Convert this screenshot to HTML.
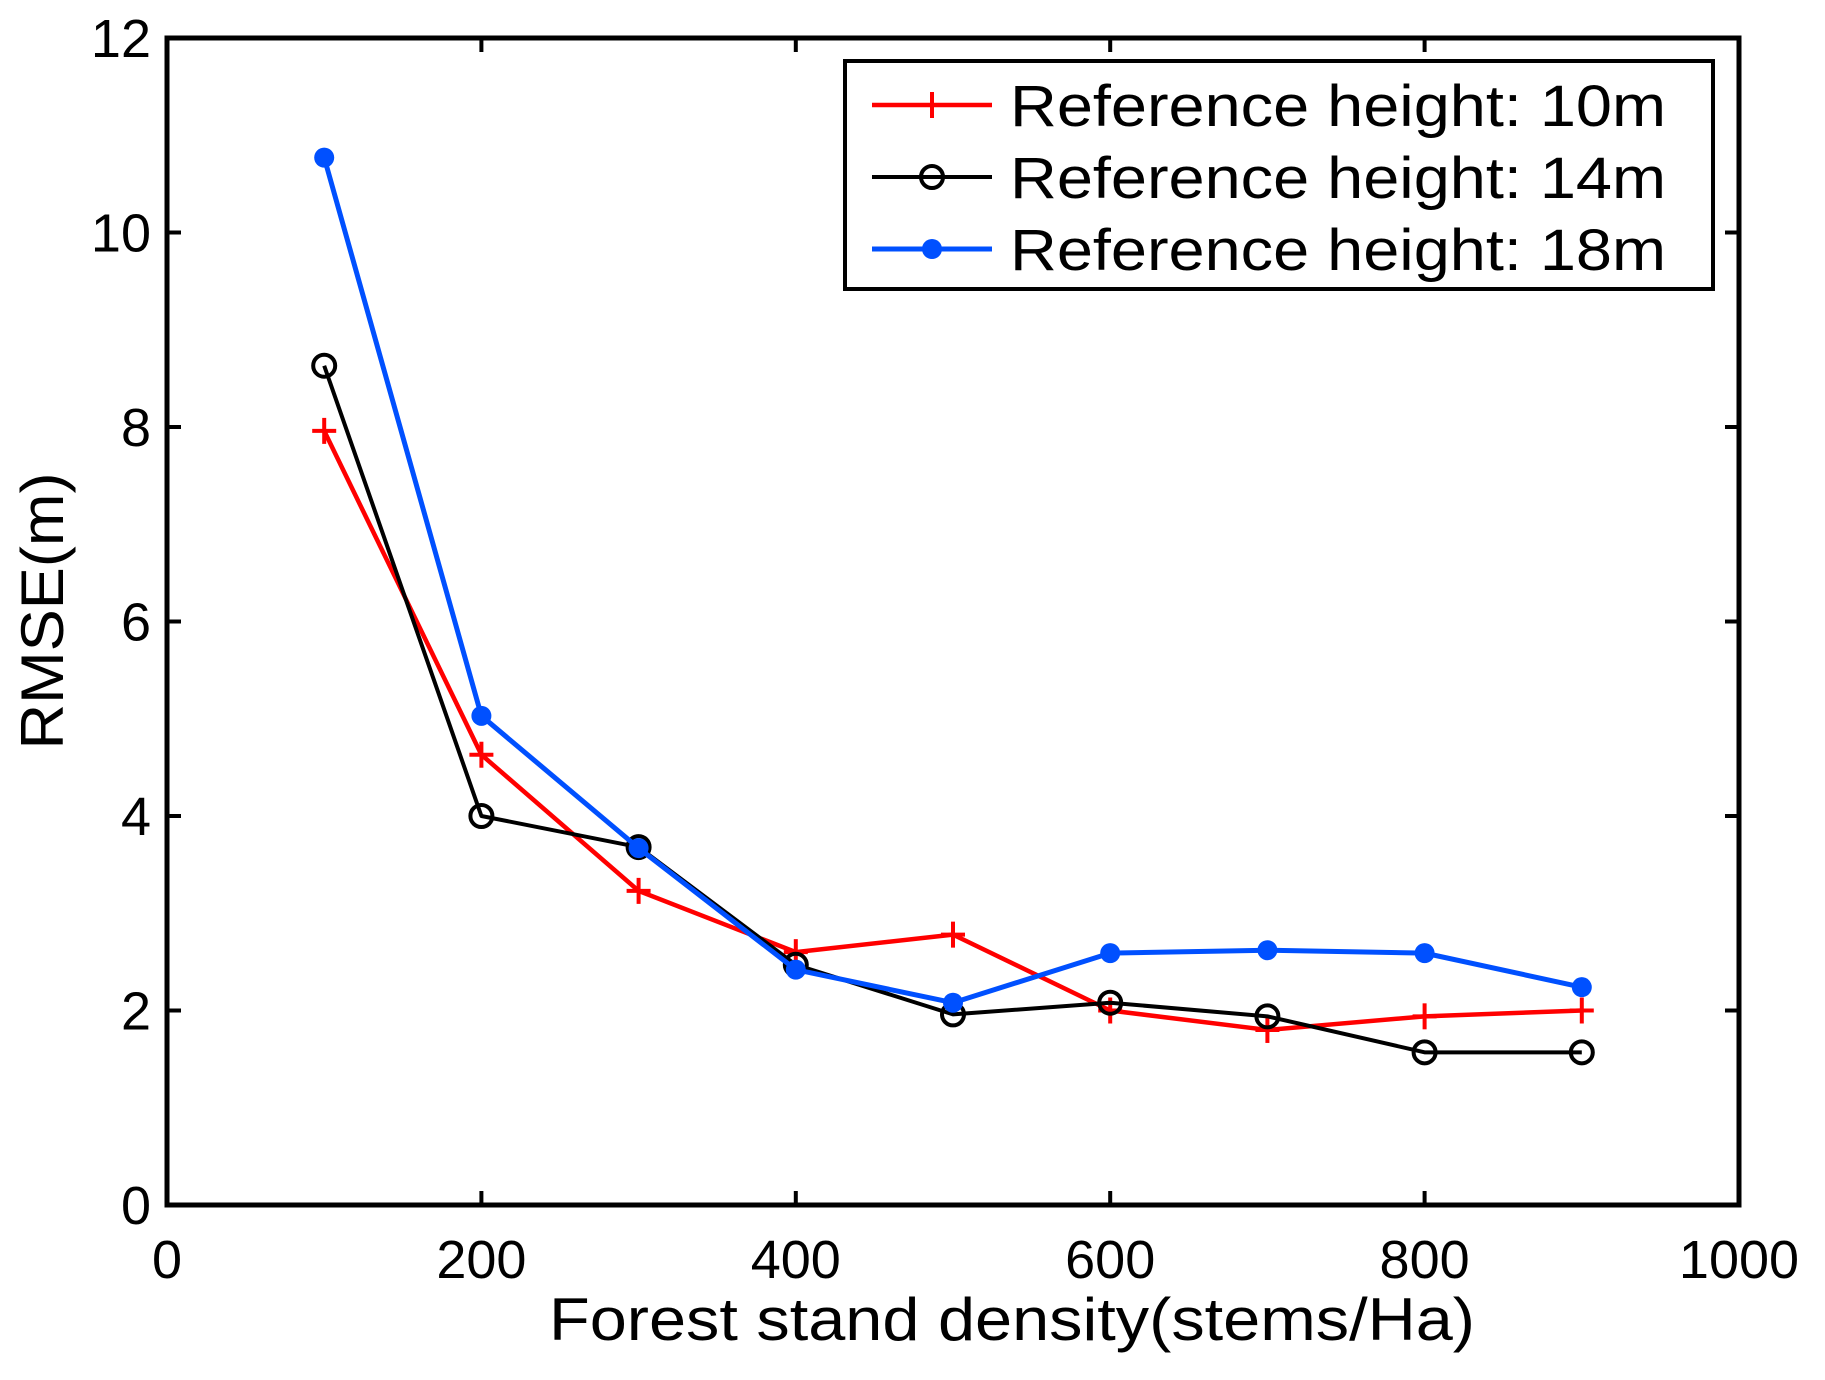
<!DOCTYPE html>
<html><head><meta charset="utf-8"><style>
html,body{margin:0;padding:0;background:#fff;}
svg{display:block;font-family:"Liberation Sans",Arial,sans-serif;}
</style></head><body>
<svg id="chart" width="1825" height="1380" viewBox="0 0 1825 1380" xmlns="http://www.w3.org/2000/svg">
<rect width="1825" height="1380" fill="#fff"/>
<g id="plot"></g>
</svg>
<script>
const xCategories=[100,200,300,400,500,600,700,800,900];
const seriesRef10=[7.96,4.63,3.23,2.6,2.78,2.0,1.8,1.94,2.0];
const seriesRef14=[8.63,4.0,3.68,2.47,1.96,2.08,1.94,1.57,1.57];
const seriesRef18=[10.77,5.03,3.67,2.42,2.08,2.59,2.62,2.59,2.24];
const xTicks=[0,200,400,600,800,1000];
const yTicks=[0,2,4,6,8,10,12];
const legendLabels=["Reference height: 10m","Reference height: 14m","Reference height: 18m"];

const L=167,R=1739,T=38,B=1205;
const sx=v=>L+(v-0)/1000*(R-L);
const sy=v=>B-(v-0)/12*(B-T);
const NS="http://www.w3.org/2000/svg";
const g=document.getElementById('plot');
function mk(tag,attrs,parent){const e=document.createElementNS(NS,tag);for(const k in attrs)e.setAttribute(k,attrs[k]);(parent||g).appendChild(e);return e;}

xTicks.forEach(t=>{
  const tb=mk('line',{x1:sx(t),x2:sx(t),y1:B,y2:B-14,stroke:'#000','stroke-width':4});
  
  
  const tt=mk('line',{x1:sx(t),x2:sx(t),y1:T,y2:T+14,stroke:'#000','stroke-width':4});
  
  
  const lb=mk('text',{x:sx(t),y:1278,'text-anchor':'middle','font-size':54});
  lb.textContent=t;
  
  
});
yTicks.forEach(t=>{
  const tl=mk('line',{x1:L,x2:L+14,y1:sy(t),y2:sy(t),stroke:'#000','stroke-width':4});
  
  
  const tr=mk('line',{x1:R,x2:R-14,y1:sy(t),y2:sy(t),stroke:'#000','stroke-width':4});
  
  
  const lb=mk('text',{x:151,y:sy(t)+19,'text-anchor':'end','font-size':54});
  lb.textContent=t;
  
  
});
const frame=mk('rect',{x:L,y:T,width:R-L,height:B-T,fill:'none',stroke:'#000','stroke-width':5});



function marker(type,x,y,parent){
  if(type==='plus'){
    mk('line',{x1:x-12,x2:x+12,y1:y,y2:y,stroke:'#ff0000','stroke-width':4},parent);
    mk('line',{x1:x,x2:x,y1:y-13,y2:y+13,stroke:'#ff0000','stroke-width':4},parent);
  }else if(type==='circle'){
    mk('circle',{cx:x,cy:y,r:11,fill:'none',stroke:'#000','stroke-width':4},parent);
  }else{
    mk('circle',{cx:x,cy:y,r:10,fill:'#0050ff'},parent);
  }
}
const series=[
  {vals:seriesRef10,color:'#ff0000',w:4.5,m:'plus',name:'series-ref-10m'},
  {vals:seriesRef14,color:'#000000',w:4,m:'circle',name:'series-ref-14m'},
  {vals:seriesRef18,color:'#0050ff',w:5,m:'star',name:'series-ref-18m'}
];
series.forEach(s=>{
  const sg=mk('g',{});
  
  
  const pts=s.vals.map((v,i)=>sx(xCategories[i])+','+sy(v)).join(' ');
  mk('polyline',{points:pts,fill:'none',stroke:s.color,'stroke-width':s.w,'stroke-linejoin':'round'},sg);
  s.vals.forEach((v,i)=>marker(s.m,sx(xCategories[i]),sy(v),sg));
});

const lg=mk('g',{});


mk('rect',{x:845,y:61,width:868,height:228,fill:'#fff',stroke:'#000','stroke-width':4},lg);
const rowsY=[105,177,249];
series.forEach((s,i)=>{
  const e=mk('g',{},lg);
  
  
  mk('line',{x1:872,x2:992,y1:rowsY[i],y2:rowsY[i],stroke:s.color,'stroke-width':s.w},e);
  marker(s.m,932,rowsY[i],e);
  const t=mk('text',{x:1010,y:rowsY[i]+21,'font-size':58,textLength:656,lengthAdjust:'spacingAndGlyphs'},e);
  t.textContent=legendLabels[i];
});

const xt=mk('text',{x:1012,y:1340,'text-anchor':'middle','font-size':60,textLength:926,lengthAdjust:'spacingAndGlyphs'});
xt.textContent='Forest stand density(stems/Ha)';


const yt=mk('text',{x:0,y:0,'text-anchor':'middle','font-size':60,textLength:277,lengthAdjust:'spacingAndGlyphs',transform:'translate(63,611) rotate(-90)'});
yt.textContent='RMSE(m)';


</script>
</body></html>
